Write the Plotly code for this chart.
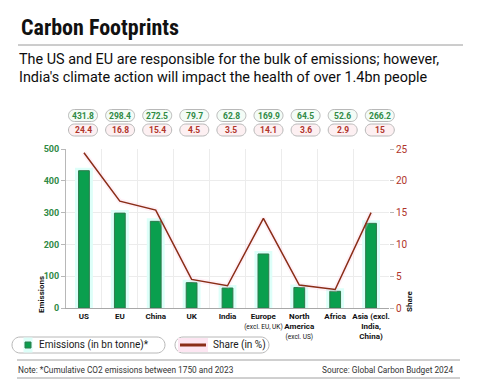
import plotly.graph_objects as go

categories = ["US", "EU", "China", "UK", "India", "Europe", "North America", "Africa", "Asia"]
tick_labels = [
    "US", "EU", "China", "UK", "India",
    "Europe<br><span style='font-size:6.5px;font-weight:normal'>(excl. EU, UK)</span>",
    "North<br>America<br><span style='font-size:6.5px;font-weight:normal'>(excl. US)</span>",
    "Africa",
    "Asia (excl.<br>India,<br>China)",
]
emissions = [431.8, 298.4, 272.5, 79.7, 62.8, 169.9, 64.5, 52.6, 266.2]
share = [24.4, 16.8, 15.4, 4.5, 3.5, 14.1, 3.6, 2.9, 15]
emission_labels = ["431.8", "298.4", "272.5", "79.7", "62.8", "169.9", "64.5", "52.6", "266.2"]
share_labels = ["24.4", "16.8", "15.4", "4.5", "3.5", "14.1", "3.6", "2.9", "15"]

# page body adds an 8px offset; figure is sized so it fills the 480x392 window
OFF = 8
W, H = 480 - OFF, 392 - OFF
L, R, T, B = 66, 389, 149, 308  # plot area in window pixels


def px(x):
    return (x - L) / (R - L)


def py(y):
    return (B - y) / (B - T)


GREEN = "#0a9f4e"
GREEN_EDGE = "#2e7a4c"
GREEN_TXT = "#2f8a45"
RED_LINE = "#8a2d17"
RED_TXT = "#b0342a"
FONT = "Roboto"

fig = go.Figure()
# soft cyan halo behind bars
fig.add_trace(go.Bar(x=categories, y=emissions, width=0.33, marker=dict(color="#ddfff9", line=dict(color="#ddfff9", width=6)),
                     hoverinfo="skip", showlegend=False))
fig.add_trace(go.Bar(x=categories, y=emissions, width=0.3, name="Emissions (in bn tonne)*",
                     marker=dict(color=GREEN, line=dict(color=GREEN_EDGE, width=1)), showlegend=False))
# faint pinkish glow under line
fig.add_trace(go.Scatter(x=categories, y=share, yaxis="y2", mode="lines",
                         line=dict(color="rgba(255,200,225,0.25)", width=5), hoverinfo="skip", showlegend=False))
fig.add_trace(go.Scatter(x=categories, y=share, yaxis="y2", mode="lines", name="Share (in %)",
                         line=dict(color=RED_LINE, width=1.5), showlegend=False))


def pill_path(w, h):
    r = h / 2.0
    k = 0.5523 * r
    x0, x1, y0, y1 = -w / 2.0, w / 2.0, -h / 2.0, h / 2.0
    return (f"M{x0+r},{y0} L{x1-r},{y0} C{x1-r+k},{y0} {x1},{-k} {x1},0 "
            f"C{x1},{k} {x1-r+k},{y1} {x1-r},{y1} L{x0+r},{y1} "
            f"C{x0+r-k},{y1} {x0},{k} {x0},0 C{x0},{-k} {x0+r-k},{y0} {x0+r},{y0} Z")


shapes = []
annotations = []


def pill(cx, cy, w, h, fill, border="#b8b8b8"):
    shapes.append(dict(type="path", xref="paper", yref="paper", xsizemode="pixel", ysizemode="pixel",
                       xanchor=px(cx), yanchor=py(cy), path=pill_path(w, h),
                       fillcolor=fill, line=dict(color=border, width=1), layer="below"))


def text(x, y, s, size, color="#222", xanchor="left", weight="normal", family=FONT, angle=0):
    annotations.append(dict(x=px(x), y=py(y), xref="paper", yref="paper", text=s, showarrow=False,
                            xanchor=xanchor, yanchor="middle", textangle=angle,
                            font=dict(family=family, size=size, color=color, weight=weight)))


# Title & subtitle
text(19, 28, "Carbon Footprints", 22, "#111", weight="bold",
     family="Liberation Sans Narrow, Roboto Condensed, DejaVu Sans Condensed, Roboto")
shapes.append(dict(type="line", xref="paper", yref="paper", x0=px(18), x1=px(463), y0=py(45), y1=py(45),
                   line=dict(color="#9a9a9a", width=1)))
text(17, 60, "The US and EU are responsible for the bulk of emissions; however,", 14.4, "#0d0d0d")
text(17, 77, "India's climate action will impact the health of over 1.4bn people", 14.4, "#0d0d0d")

# value badges
for i, (a, b) in enumerate(zip(emission_labels, share_labels)):
    cx = 83 + i * 37.1
    pill(cx, 115.5, 29, 12, "#f3fcf6")
    pill(cx, 130, 29, 12, "#fdf0f2")
    text(cx, 115.5, a, 8.5, GREEN_TXT, xanchor="center", weight="bold")
    text(cx, 130, b, 8.5, RED_TXT, xanchor="center", weight="bold")

# axis titles
text(41, 295, "Emissions", 8, "#111", xanchor="center", weight="bold", angle=-90)
text(409, 301, "Share", 8, "#111", xanchor="center", weight="bold", angle=-90)

# legend
pill(88.5, 345, 153, 16, "white")
shapes.append(dict(type="rect", xref="paper", yref="paper", x0=px(23.5), x1=px(32.5), y0=py(337.5), y1=py(352.5),
                   fillcolor="#ddfff9", line=dict(width=0)))
shapes.append(dict(type="rect", xref="paper", yref="paper", x0=px(25), x1=px(31), y0=py(342), y1=py(348),
                   fillcolor=GREEN, line=dict(color=GREEN_EDGE, width=1)))
text(37, 345, "Emissions (in bn tonne)*", 10, "#1a1a1a")
pill(222, 345, 94, 16, "white")
shapes.append(dict(type="rect", xref="paper", yref="paper", x0=px(178), x1=px(208), y0=py(338), y1=py(352),
                   fillcolor="#fde6f2", line=dict(width=0)))
shapes.append(dict(type="line", xref="paper", yref="paper", x0=px(180), x1=px(206), y0=py(345), y1=py(345),
                   line=dict(color=RED_LINE, width=3)))
text(211, 345, "Share (in %)", 10, "#1a1a1a")

# footer
shapes.append(dict(type="line", xref="paper", yref="paper", x0=px(17), x1=px(460), y0=py(360), y1=py(360),
                   line=dict(color="#a0a0a0", width=1)))
shapes.append(dict(type="line", xref="paper", yref="paper", x0=px(17), x1=px(460), y0=py(378), y1=py(378),
                   line=dict(color="#a0a0a0", width=1)))
text(16, 369.5, "Note: *Cumulative CO2 emissions between 1750 and 2023", 8.3, "#333")
text(455, 369.5, "Source: Global Carbon Budget 2024", 8.3, "#333", xanchor="right")

fig.update_layout(
    width=W, height=H, autosize=False,
    margin=dict(l=L - OFF, r=480 - R, t=T - OFF, b=392 - B, pad=0),
    paper_bgcolor="white", plot_bgcolor="white",
    barmode="overlay", showlegend=False,
    font=dict(family=FONT),
    shapes=shapes, annotations=annotations,
    xaxis=dict(type="category", tickvals=categories, ticktext=tick_labels, tickson="boundaries",
               showgrid=True, gridcolor="#ececec", showline=True, linecolor="#a8a8a8",
               ticks="", tickfont=dict(family=FONT, size=8, color="#111", weight="bold"), tickangle=0,
               range=[-0.5, 8.5]),
    yaxis=dict(range=[0, 500], dtick=100, showgrid=True, gridcolor="#ececec", showline=True,
               linecolor="#b8b8b8", ticks="outside", ticklen=4, tickcolor="#b8b8b8", zeroline=False,
               tickfont=dict(family=FONT, size=9, color=GREEN_TXT, weight="bold")),
    yaxis2=dict(range=[0, 25], dtick=5, overlaying="y", side="right", showgrid=False, showline=False,
                ticks="outside", ticklen=4, tickcolor="#b8b8b8", zeroline=False,
                tickfont=dict(family=FONT, size=10, color=RED_TXT)),
)

fig.write_html("out.html")
